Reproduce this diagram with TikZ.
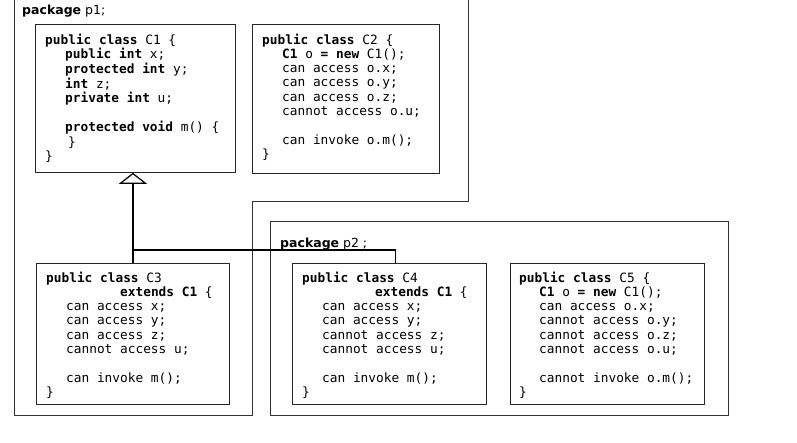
\documentclass[tikz,border=0pt]{standalone}
\usepackage{fontspec}
\setmainfont{DejaVu Sans}
\setmonofont{DejaVu Sans Mono}
\usetikzlibrary{arrows.meta}
\newcommand\codefont{\fontsize{12.8}{14.3}\selectfont\ttfamily}
\newcommand\cind{\hspace*{20pt}}
\begin{document}
\begin{tikzpicture}[x=1pt,y=-1pt,
  classbox/.style={draw=black!85, line width=0.8pt, inner sep=0pt, anchor=north west},
  code/.style={anchor=base west, inner sep=0pt, font=\codefont},
  pkgline/.style={draw=black!80, line width=0.8pt},
  pkglabel/.style={anchor=base west, inner sep=0pt, font=\fontsize{12.5}{14}\selectfont},
  inherit/.style={draw=black, line width=1.4pt}]
\useasboundingbox (0,0) rectangle (797,442);
\fill[white] (0,0) rectangle (797,442);

% packages
\draw[pkgline] (468,-3) -- (468,201) -- (252,201) -- (252,415) -- (14,415) -- (14,-3);
\draw[pkgline] (270,221) rectangle (728,415);
\node[pkglabel] (p1lab) at (22,14) {\textbf{package} p1;};
\node[pkglabel] (p2lab) at (280,247) {\textbf{package} p2 ;};

% class boxes
\node[classbox, minimum width=200pt, minimum height=148pt] (C1) at (35,24) {};
\node[classbox, minimum width=187pt, minimum height=149pt] (C2) at (252,24) {};
\node[classbox, minimum width=193pt, minimum height=141pt] (C3) at (36,263) {};
\node[classbox, minimum width=194pt, minimum height=141pt] (C4) at (292,263) {};
\node[classbox, minimum width=194pt, minimum height=141pt] (C5) at (510,263) {};

% code
\node[code] (C1t) at (45,44) {\begin{tabular}[t]{@{}l@{}}
\textbf{public class} C1 \{\\
\cind\textbf{public int} x;\\
\cind\textbf{protected int} y;\\
\cind\textbf{int} z;\\
\cind\textbf{private int} u;\\
\\
\cind\textbf{protected void} m() \{\\
\cind\hspace*{3pt}\}\\
\}
\end{tabular}};

\node[code] (C2t) at (262,44) {\begin{tabular}[t]{@{}l@{}}
\textbf{public class} C2 \{\\
\cind\textbf{C1} o \textbf{= new} C1();\\
\cind can access o.x;\\
\cind can access o.y;\\
\cind can access o.z;\\
\cind cannot access o.u;\\
\\
\cind can invoke o.m();\\
\}
\end{tabular}};

\node[code] (C3t) at (46,282) {\begin{tabular}[t]{@{}l@{}}
\textbf{public class} C3\\
\hspace*{74pt}\textbf{extends C1} \{\\
\cind can access x;\\
\cind can access y;\\
\cind can access z;\\
\cind cannot access u;\\
\\
\cind can invoke m();\\
\}
\end{tabular}};

\node[code] (C4t) at (302,282) {\begin{tabular}[t]{@{}l@{}}
\textbf{public class} C4\\
\hspace*{73pt}\textbf{extends C1} \{\\
\cind can access x;\\
\cind can access y;\\
\cind cannot access z;\\
\cind cannot access u;\\
\\
\cind can invoke m();\\
\}
\end{tabular}};

\node[code] (C5t) at (519,282) {\begin{tabular}[t]{@{}l@{}}
\textbf{public class} C5 \{\\
\cind\textbf{C1} o \textbf{= new} C1();\\
\cind can access o.x;\\
\cind cannot access o.y;\\
\cind cannot access o.z;\\
\cind cannot access o.u;\\
\\
\cind cannot invoke o.m();\\
\}
\end{tabular}};

% inheritance
\coordinate (J) at (132.5,250);
\draw[inherit, -{Triangle[open, length=11pt, width=28pt, line width=1.2pt]}] (C3.north) -- (C3.north |- C1.south);
\draw[inherit] (J) -| ([xshift=6pt]C4.north);
\end{tikzpicture}
\end{document}
